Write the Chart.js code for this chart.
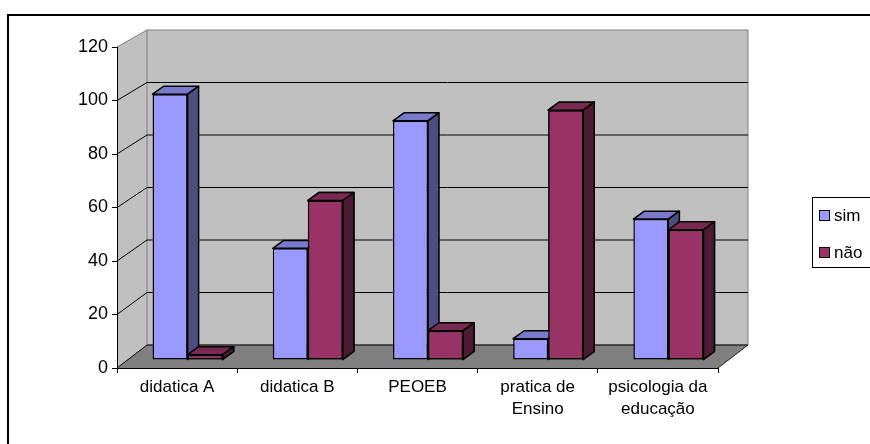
<!DOCTYPE html>
<html lang="pt">
<head>
<meta charset="utf-8">
<title>sim / não por disciplina</title>
<script src="https://cdn.jsdelivr.net/npm/chart.js@4.4.1/dist/chart.umd.min.js"></script>
<style>
  html, body { margin: 0; padding: 0; background: #fff; overflow: hidden; }
  #wrap { position: relative; width: 870px; height: 444px; }
</style>
</head>
<body>
<div id="wrap"><canvas id="grafico"></canvas></div>
<script>
// ── dados
const disciplinas = ['didatica A', 'didatica B', 'PEOEB', ['pratica de', 'Ensino'], ['psicologia da', 'educação']];
const valoresSim = [100, 42, 90, 8, 53];
const valoresNao = [2, 60, 11, 94, 49];
const eixoY = [0, 20, 40, 60, 80, 100, 120];

const FONTE = '"Liberation Sans", Arial, sans-serif';

// ── geometria da "caixa" 3D (deslocamento da parede do fundo)
const PAREDE = { dx: 30, dyBase: -23, dyTopo: -17 };
const BARRA_F = 0.35;            // posição das barras na profundidade (0 = frente, 1 = fundo)
const BARRA_PROF = { dx: 11, dy: -8 };

function projeta(chart, x, v, f) {
  const ys = chart.scales.y;
  const dy = PAREDE.dyBase + (PAREDE.dyTopo - PAREDE.dyBase) * (v - ys.min) / (ys.max - ys.min);
  return [x + PAREDE.dx * f, ys.getPixelForValue(v) + dy * f];
}

function poligono(ctx, pts, fill, stroke, lw) {
  ctx.beginPath();
  ctx.moveTo(pts[0][0], pts[0][1]);
  for (let i = 1; i < pts.length; i++) ctx.lineTo(pts[i][0], pts[i][1]);
  ctx.closePath();
  if (fill) { ctx.fillStyle = fill; ctx.fill(); }
  if (stroke) { ctx.strokeStyle = stroke; ctx.lineWidth = lw || 1; ctx.lineJoin = 'round'; ctx.stroke(); }
}

function linha(ctx, a, b, cor, lw) {
  ctx.beginPath();
  ctx.moveTo(a[0], a[1]);
  ctx.lineTo(b[0], b[1]);
  ctx.strokeStyle = cor;
  ctx.lineWidth = lw || 1;
  ctx.stroke();
}

// transforma o contexto para o plano das barras
function planoBarras(chart) {
  const ys = chart.scales.y;
  const f = BARRA_F;
  const y0 = ys.getPixelForValue(ys.min), y1 = ys.getPixelForValue(ys.max);
  const n0 = y0 + PAREDE.dyBase * f, n1 = y1 + PAREDE.dyTopo * f;
  const a = (n1 - n0) / (y1 - y0);
  chart.ctx.save();
  chart.ctx.transform(1, 0, 0, a, PAREDE.dx * f, n0 - a * y0);
}

function facesBarras(chart, index) {
  const ctx = chart.ctx;
  const ds = chart.data.datasets[index];
  const { dx, dy } = BARRA_PROF;
  chart.getDatasetMeta(index).data.forEach(el => {
    const { x, y, base, width } = el.getProps(['x', 'y', 'base', 'width'], true);
    const l = x - width / 2, r = x + width / 2;
    poligono(ctx, [[l, y], [r, y], [r + dx, y + dy], [l + dx, y + dy]], ds.corTopo, '#000', 1.5);
    poligono(ctx, [[r, y], [r + dx, y + dy], [r + dx, base + dy], [r, base]], ds.corLado, '#000', 1.5);
  });
}

const caixa3d = {
  id: 'caixa3d',
  // paredes, piso e linhas de grade
  beforeDraw(chart) {
    const ctx = chart.ctx;
    const ca = chart.chartArea;
    const ys = chart.scales.y;
    const L = ca.left, R = ca.right, top = ys.max, base = ys.min;
    const p = (x, v, f) => projeta(chart, x, v, f);

    ctx.save();
    ctx.fillStyle = '#fff';
    ctx.fillRect(0, 0, chart.width, chart.height);

    // moldura externa
    ctx.strokeStyle = '#000';
    ctx.lineWidth = 2;
    ctx.beginPath();
    ctx.moveTo(8, chart.height + 5);
    ctx.lineTo(8, 15);
    ctx.lineTo(chart.width + 5, 15);
    ctx.stroke();

    poligono(ctx, [p(L, base, 0), p(L, base, 1), p(L, top, 1), p(L, top, 0)], '#C0C0C0');
    poligono(ctx, [p(L, base, 1), p(R, base, 1), p(R, top, 1), p(L, top, 1)], '#C0C0C0', '#808080', 1);
    poligono(ctx, [p(L, base, 0), p(R, base, 0), p(R, base, 1), p(L, base, 1)], '#808080');
    linha(ctx, p(R, base, 0), p(R, base, 1), '#222', 1);
    linha(ctx, p(L, top, 0), p(L, top, 1), '#808080', 1);

    ys.ticks.forEach(t => {
      if (t.value >= top) return;
      linha(ctx, p(L, t.value, 0), p(L, t.value, 1), '#000', 1);
      linha(ctx, p(L, t.value, 1), p(R, t.value, 1), '#000', 1);
    });
    ctx.restore();
  },
  beforeDatasetDraw(chart) {
    planoBarras(chart);
  },
  afterDatasetDraw(chart, args) {
    facesBarras(chart, args.index);
    chart.ctx.restore();
  },
  afterDatasetsDraw(chart) {
    // a série da direita fica na frente da lateral da série da esquerda
    planoBarras(chart);
    chart.getDatasetMeta(1).controller.draw();
    facesBarras(chart, 1);
    chart.ctx.restore();
  },
  // legenda com caixa
  afterDraw(chart) {
    const ctx = chart.ctx;
    ctx.save();
    ctx.strokeStyle = '#000';
    ctx.lineWidth = 1;
    ctx.strokeRect(812.5, 197.5, 80, 70);
    ctx.font = '17px ' + FONTE;
    ctx.textBaseline = 'middle';
    chart.data.datasets.forEach((ds, i) => {
      const cy = 216 + i * 37;
      ctx.fillStyle = ds.backgroundColor;
      ctx.fillRect(819.5, cy - 5.5, 10, 10);
      ctx.strokeRect(819.5, cy - 5.5, 10, 10);
      ctx.fillStyle = '#000';
      ctx.fillText(ds.label, 834, cy);
    });
    ctx.restore();
  }
};

Chart.defaults.font.family = FONTE;
Chart.defaults.color = '#000';

new Chart(document.getElementById('grafico'), {
  type: 'bar',
  data: {
    labels: disciplinas,
    datasets: [
      { label: 'sim', data: valoresSim, backgroundColor: '#9999FF', corTopo: '#7A7ACC', corLado: '#4D4D80',
        borderColor: '#000', borderWidth: 1.5, borderSkipped: false },
      { label: 'não', data: valoresNao, backgroundColor: '#993366', corTopo: '#7A2952', corLado: '#4D1A33',
        borderColor: '#000', borderWidth: 1.5, borderSkipped: false }
    ]
  },
  options: {
    responsive: true,
    maintainAspectRatio: false,
    animation: false,
    events: [],
    layout: { padding: { left: 0, top: 47, right: 152, bottom: 0 } },
    datasets: { bar: { categoryPercentage: 0.583, barPercentage: 1 } },
    plugins: { legend: { display: false }, tooltip: { enabled: false } },
    scales: {
      x: {
        grid: { drawOnChartArea: false, drawTicks: true, tickLength: 5, color: '#000' },
        border: { display: true, color: '#000', width: 1 },
        ticks: { font: { size: 17, lineHeight: 1.25 }, padding: 4, maxRotation: 0, autoSkip: false },
        afterFit: s => { s.height = 76; }
      },
      y: {
        min: eixoY[0],
        max: eixoY[eixoY.length - 1],
        grid: { drawOnChartArea: false, drawTicks: true, tickLength: 5, color: '#000' },
        border: { display: true, color: '#000', width: 1 },
        ticks: { stepSize: eixoY[1] - eixoY[0], font: { size: 18 }, padding: 4 },
        afterFit: s => { s.width = 117; }
      }
    }
  },
  plugins: [caixa3d]
});
</script>
</body>
</html>
